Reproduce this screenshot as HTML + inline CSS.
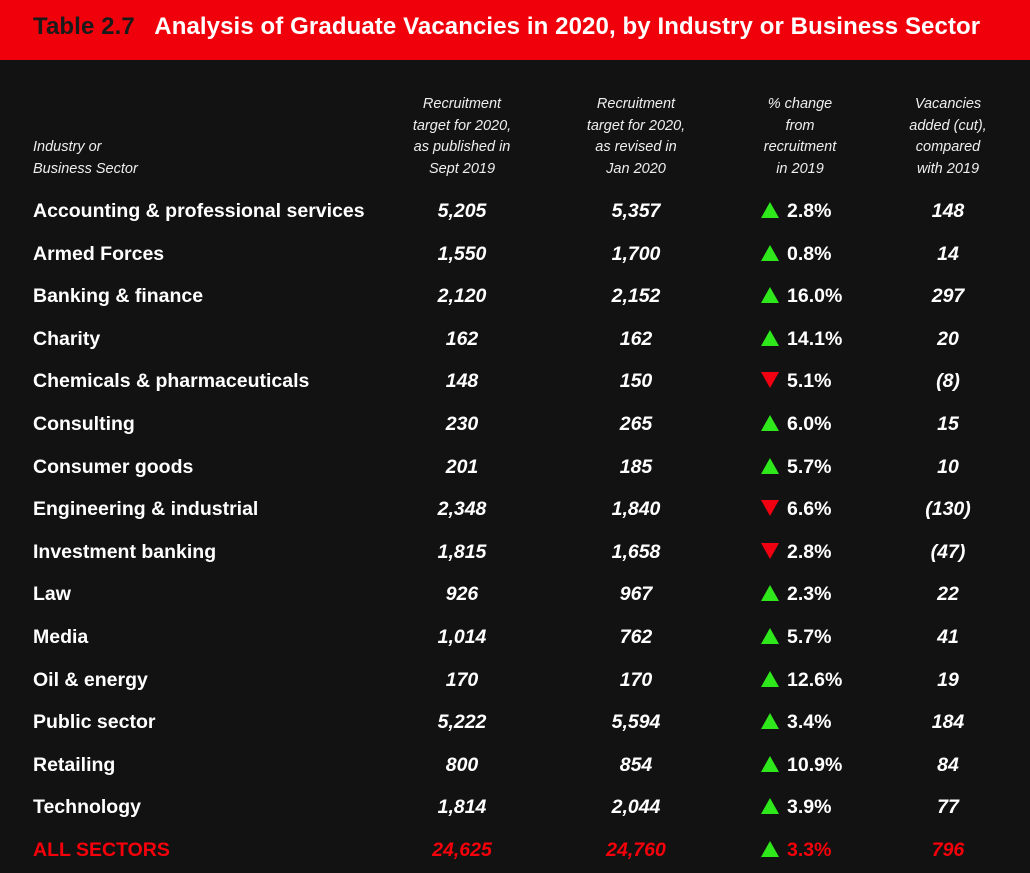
<!DOCTYPE html>
<html><head><style>
body{margin:0;width:1030px;height:873px;background:#121212;font-family:"Liberation Sans",sans-serif;color:#fff;overflow:hidden;position:relative}
.ban{position:absolute;left:0;top:0;width:1030px;height:60px;background:#f0000a}
.t{position:absolute;top:13px;left:33px;font-size:24px;font-weight:bold;white-space:nowrap;letter-spacing:0.1px}
.h{position:absolute;font-style:italic;font-size:14.5px;line-height:21.7px;text-align:center;color:#eee}
.r{position:absolute;left:0;width:1030px;height:30px;font-size:19.5px;font-weight:bold}
.r div{position:absolute;top:0;white-space:nowrap}
.n{font-style:italic;text-align:center;width:160px}
.up,.dn{display:inline-block;width:0;height:0;border-left:9px solid transparent;border-right:9px solid transparent;margin-right:8px;vertical-align:-1px}
.up{border-bottom:16px solid #2ee81b}
.dn{border-top:16px solid #f00010}
.red{color:#f5000a !important}
</style></head><body>
<div class="ban"></div>
<div class="t"><span style="color:#1a1a1a">Table 2.7</span>&nbsp;&nbsp; Analysis of Graduate Vacancies in 2020, by Industry or Business Sector</div>
<div class="h" style="left:33px;top:137px;text-align:left">Industry or<br>Business Sector</div>
<div class="h" style="left:382px;top:94px;width:160px">Recruitment<br>target for 2020,<br>as published in<br>Sept 2019</div>
<div class="h" style="left:556px;top:94px;width:160px">Recruitment<br>target for 2020,<br>as revised in<br>Jan 2020</div>
<div class="h" style="left:720px;top:94px;width:160px">% change<br>from<br>recruitment<br>in 2019</div>
<div class="h" style="left:868px;top:94px;width:160px">Vacancies<br>added (cut),<br>compared<br>with 2019</div>
<div id="rows"></div>
<script>
var d=[["Accounting & professional services","5,205","5,357",1,"2.8%","148"],
["Armed Forces","1,550","1,700",1,"0.8%","14"],
["Banking & finance","2,120","2,152",1,"16.0%","297"],
["Charity","162","162",1,"14.1%","20"],
["Chemicals & pharmaceuticals","148","150",0,"5.1%","(8)"],
["Consulting","230","265",1,"6.0%","15"],
["Consumer goods","201","185",1,"5.7%","10"],
["Engineering & industrial","2,348","1,840",0,"6.6%","(130)"],
["Investment banking","1,815","1,658",0,"2.8%","(47)"],
["Law","926","967",1,"2.3%","22"],
["Media","1,014","762",1,"5.7%","41"],
["Oil & energy","170","170",1,"12.6%","19"],
["Public sector","5,222","5,594",1,"3.4%","184"],
["Retailing","800","854",1,"10.9%","84"],
["Technology","1,814","2,044",1,"3.9%","77"],
["ALL SECTORS","24,625","24,760",1,"3.3%","796"]];
var h="";
d.forEach(function(r,i){var y=200+i*42.6;var c=i==15?' red':'';
h+='<div class="r" style="top:'+y+'px"><div class="'+c+'" style="left:33px">'+r[0].replace('&','&amp;')+'</div>'+
'<div class="n'+c+'" style="left:382px">'+r[1]+'</div>'+
'<div class="n'+c+'" style="left:556px">'+r[2]+'</div>'+
'<div style="left:761px"><span class="'+(r[3]?'up':'dn')+'"></span><span class="'+c+'">'+r[4]+'</span></div>'+
'<div class="n'+c+'" style="left:868px">'+r[5]+'</div></div>';});
document.getElementById("rows").innerHTML=h;
</script>
</body></html>
